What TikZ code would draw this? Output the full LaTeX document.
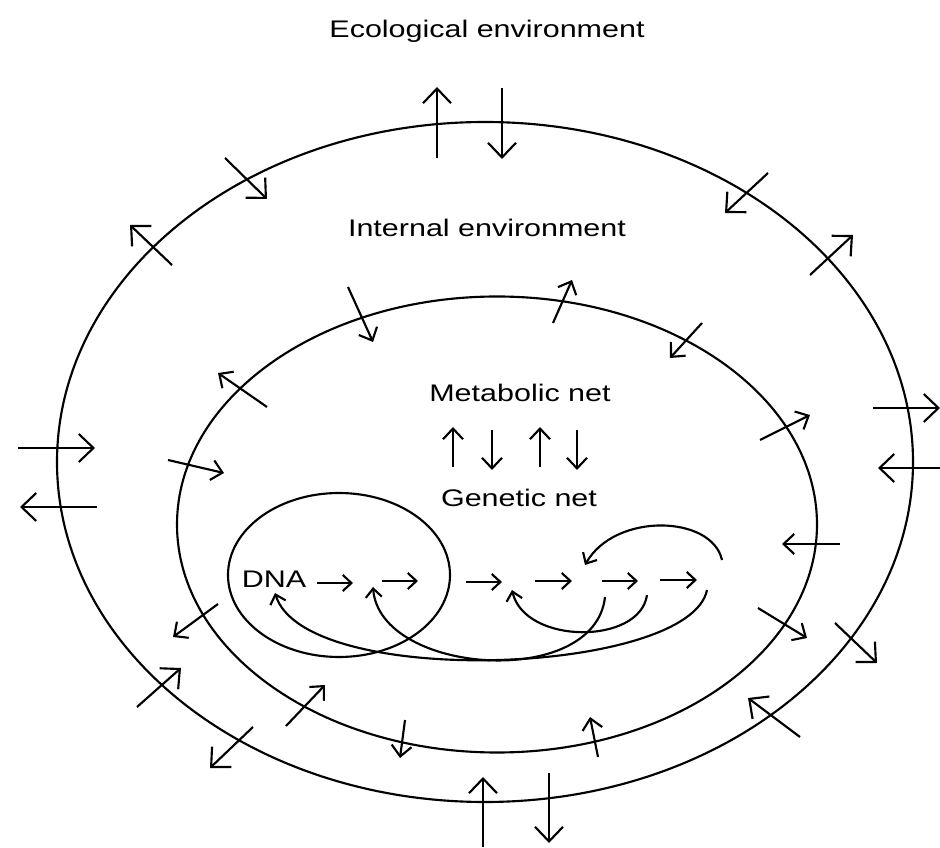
\documentclass[tikz,border=0pt]{standalone}
\usepackage{fontspec}
\setmainfont{Liberation Sans}
\usetikzlibrary{arrows.meta}

\tikzset{every picture/.style={line width=1.6pt}}
\tikzset{
  bigarr/.style={-{Straight Barb[length=11pt,width=21pt]}},
  midarr/.style={-{Straight Barb[length=8pt,width=15pt]}},
  smallarr/.style={-{Straight Barb[length=6.5pt,width=12pt]}},
  lbl/.style={anchor=base,inner sep=0.75pt,xscale=1.27,font=\fontsize{18}{21}\selectfont}
}

\begin{document}
\begin{tikzpicture}[x=0.75pt,y=0.75pt,yscale=-1,xscale=1]
\useasboundingbox (0,0) rectangle (940,848);

%Shape: Ellipse [ecological border]
\draw   (485,462) ellipse (428 and 340);
%Shape: Ellipse [internal border]
\draw   (497,524.5) ellipse (320 and 228);
%Shape: Ellipse [genetic loop]
\draw   (339,575) ellipse (111 and 82);

%Straight Lines [across ecological border]
\draw [bigarr]   (437,158) -- (437,87);
\draw [bigarr]   (502,88) -- (502,159);
\draw [bigarr]   (225,158) -- (267,199);
\draw [bigarr]   (172,265) -- (130,225);
\draw [bigarr]   (18,448) -- (95,448);
\draw [bigarr]   (97,507) -- (20,507);
\draw [bigarr]   (137,707) -- (181,668);
\draw [bigarr]   (253,727) -- (210,768);
\draw [bigarr]   (483,847) -- (483,777);
\draw [bigarr]   (549,773) -- (549,843);
\draw [bigarr]   (835,623) -- (877,663);
\draw [bigarr]   (800,737) -- (748,698);
\draw [bigarr]   (873,408) -- (940,408);
\draw [bigarr]   (942,468) -- (878,468);
\draw [bigarr]   (810,275) -- (853,235);
\draw [bigarr]   (768,173) -- (725,213);

%Straight Lines [across internal border]
\draw [midarr]   (348,287) -- (373,342);
\draw [midarr]   (267,407) -- (218,373);
\draw [midarr]   (168,460) -- (224,473);
\draw [midarr]   (218,604) -- (173,637);
\draw [midarr]   (286,726) -- (325,685);
\draw [midarr]   (405,720) -- (400,758);
\draw [midarr]   (598,757) -- (590,717);
\draw [midarr]   (758,608) -- (807,638);
\draw [midarr]   (840,544) -- (782,544);
\draw [midarr]   (760,440) -- (810,415);
\draw [midarr]   (702,323) -- (670,358);
\draw [midarr]   (553,323) -- (572,280);

%Straight Lines [metabolic - genetic]
\draw [midarr]   (453,467) -- (453,427);
\draw [midarr]   (492,430) -- (492,470);
\draw [midarr]   (540,467) -- (540,427);
\draw [midarr]   (577,430) -- (577,470);

%Straight Lines [DNA chain]
\draw [smallarr]   (317,583) -- (353,583);
\draw [smallarr]   (382,581) -- (418,581);
\draw [smallarr]   (466,582) -- (502,582);
\draw [smallarr]   (535,581) -- (572,581);
\draw [smallarr]   (602,581) -- (638,581);
\draw [smallarr]   (660,580) -- (697,580);

%Curve Lines [feedback]
\draw [smallarr]   (722,560) .. controls (712,515) and (615,512) .. (585,565);
\draw [smallarr]   (647,595) .. controls (640,645) and (525,645) .. (512,590);
\draw [smallarr]   (605,597) .. controls (595,690) and (380,675) .. (373,587);
\draw [smallarr]   (707,590) .. controls (690,675) and (305,690) .. (275,593);

% Text Node
\draw (487,38) node (title) [lbl] {Ecological environment};
% Text Node
\draw (487,237) node (intenv) [lbl] {Internal environment};
% Text Node
\draw (520,402) node (metnet) [lbl] {Metabolic net};
% Text Node
\draw (519,507) node (gennet) [lbl] {Genetic net};
% Text Node
\draw (274,588) node (dna) [lbl] {DNA};
\end{tikzpicture}
\end{document}
